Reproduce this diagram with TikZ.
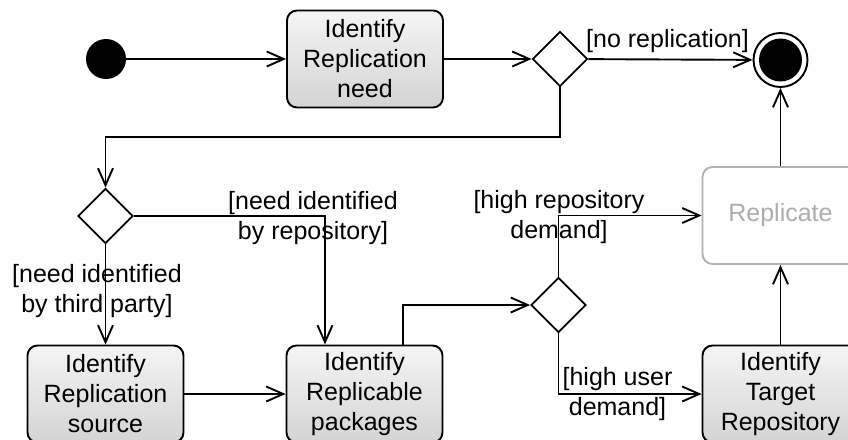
\documentclass[tikz,border=0pt]{standalone}
\usepackage{fontspec}
\setmainfont{Liberation Sans}
\usetikzlibrary{shapes.geometric,arrows.meta}
\begin{document}
\begin{tikzpicture}[x=1pt,y=-1pt,
  every node/.style={font=\fontsize{25}{30}\selectfont},
  act/.style={rectangle, rounded corners=10pt, draw, line width=1.9pt,
    minimum width=156pt, minimum height=97pt, align=center, inner sep=0pt,
    top color=black!4, bottom color=black!17},
  actg/.style={rectangle, rounded corners=10pt, draw=black!30, line width=1.9pt,
    minimum width=156pt, minimum height=97pt, align=center, inner sep=0pt,
    fill=white, text=black!32},
  dec/.style={diamond, draw, line width=1.9pt, minimum width=55pt,
    minimum height=55pt, inner sep=0pt, fill=white},
  startn/.style={circle, fill=black, minimum size=40pt, inner sep=0pt},
  endn/.style={circle, draw, line width=1.9pt, minimum size=54pt, inner sep=0pt,
    fill=white, path picture={\fill[black] (path picture bounding box.center) circle (21.5pt);}},
  lbl/.style={inner sep=0pt, align=center},
  flow/.style={draw, line width=1.9pt, -{Straight Barb[length=17pt,width=15pt]}}
]
\useasboundingbox (0,0) rectangle (848,439);
\clip (0,0) rectangle (848,439);

% nodes
\node[startn] (start) at (106,59) {};
\node[act] (need) at (365,59) {Identify\\Replication\\need};
\node[dec] (d1) at (560,59) {};
\node[endn] (end) at (780.5,60) {};
\node[dec] (d2) at (105.5,216) {};
\node[act] (src) at (105.5,394) {Identify\\Replication\\source};
\node[act] (pack) at (364.5,394) {Identify\\Replicable\\packages};
\node[dec] (d3) at (558.5,305) {};
\node[actg] (rep) at (780.5,215.5) {Replicate};
\node[act] (tgt) at (780.5,394) {Identify\\Target\\Repository};

\coordinate (k1) at (300,137);

% labels
\node[lbl] (l1) at (667.5,41) {[no replication]};
\node[lbl] (l2) at (313,218) {[need identified\\by repository]};
\node[lbl] (l3) at (97,291) {[need identified\\by third party]};
\node[lbl] (l4) at (559,217) {[high repository\\demand]};
\node[lbl] (l5) at (617.5,394.5) {[high user\\demand]};

% connectors
\draw[flow] (start) -- (need);
\draw[flow] (need) -- (d1);
\draw[flow] (d1) -- (end);
\draw[flow] (d1.south) |- (k1) -| (d2.north);
\draw[flow] (d2.east) -| ([xshift=-39.5pt]pack.north);
\draw[flow] (d2.south) -- (src.north);
\draw[flow] (src) -- (pack);
\draw[flow] ([xshift=38.5pt]pack.north) |- (d3.west);
\draw[flow] (d3.north) |- (rep.west);
\draw[flow] (d3.south) |- (tgt.west);
\draw[flow] (tgt) -- (rep);
\draw[flow] (rep) -- (end);
\end{tikzpicture}
\end{document}
